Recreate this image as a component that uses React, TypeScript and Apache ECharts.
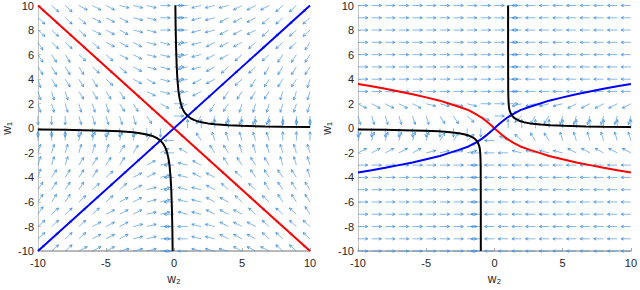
import React, { useEffect, useRef } from "react";
import * as echarts from "echarts";

// ---------- data ----------
const X_TICK_STEP = 5;
const Y_TICK_STEP = 2;
const AXIS_MIN = -10;
const AXIS_MAX = 10;

// quiver grid positions (columns = w2, rows = w1 from top)
const GRID_W2 = [-10, -9, -8, -7, -6, -5, -4, -3, -2, -1, 0, 1, 2, 3, 4, 5, 6, 7, 8, 9, 10];
const GRID_W1 = [10, 9, 8, 7, 6, 5, 4, 3, 2, 1, 0, -1, -2, -3, -4, -5, -6, -7, -8, -9, -10];

// arrow directions: a = 0deg (east), each letter +15deg counter-clockwise, "." = no arrow
const DIR_CODES = "abcdefghijklmnopqrstuvwx";
const DIR_STEP_DEG = 15;

const LEFT_FIELD = [
  "vvvwwwxxxaamnnnoooppp",
  "vvvvwwwxxaamnnooopppp",
  "vvvvwwwxxaamnnooopppp",
  "uvvvvwwwxxannoooppppq",
  "uuuvvvwwxxannoopppqqq",
  "uuuuvvvwxxannopppqqqq",
  "tuuuuvvwwxanooppqqqqr",
  "tttuuuuvwxanopqqqqrrr",
  "ttttttuuvwaopqqrrrrrr",
  "ssstttttuva.qrrrrrsss",
  "ssssssssss.gggggggggg",
  "gggfffffe.mjihhhhhggg",
  "ffffffeedcmkjiihhhhhh",
  "fffeeeedcbmlkjiiiihhh",
  "feeeeddccbmlkkjjiiiih",
  "eeeedddcbbmllkjjjiiii",
  "eeedddccbbmllkkjjjiii",
  "eddddcccbbmllkkkjjjji",
  "ddddcccbbammllkkkjjjj",
  "ddddcccbbammllkkkjjjj",
  "dddcccbbbammlllkkkjjj",
];

const RIGHT_FIELD = [
  "aaaaaaaaaaaammmmmmmmm",
  "aaaaaaaaaaaammmmmmmmm",
  "aaaaaaaaaaaammmmmmmmm",
  "aaaaaaaaaaaammmmmmmmm",
  "aaaaaaaaaaaammmmmmmmm",
  "aaaaaaaaaaaammmmmmmmm",
  "aaaaaaaaaaaammmmmmmmm",
  "aaaaaaaaaaaammmmmmmmm",
  "wwwwwxxxxaaannnnooooo",
  "ttttttuuvwacpqqrrrrrr",
  "ssssssssss.gggggggggg",
  "ffffffeedomkjiihhhhhh",
  "cccccbbbbmmmllllkkkkk",
  "aaaaaaaaammmmmmmmmmmm",
  "aaaaaaaaammmmmmmmmmmm",
  "aaaaaaaaammmmmmmmmmmm",
  "aaaaaaaaammmmmmmmmmmm",
  "aaaaaaaaammmmmmmmmmmm",
  "aaaaaaaaammmmmmmmmmmm",
  "aaaaaaaaammmmmmmmmmmm",
  "aaaaaaaaammmmmmmmmmmm",
];

// curves as [w2, w1]
const LEFT_RED = [[-10, 10], [10, -10]];
const LEFT_BLUE = [[-10, -10], [10, 10]];
const LEFT_BLACK_UPPER = [
  [0.1, 10], [0.12, 8.3], [0.15, 6.7], [0.2, 5], [0.25, 4], [0.33, 3], [0.4, 2.5], [0.5, 2],
  [0.6, 1.67], [0.67, 1.5], [0.8, 1.25], [1, 1], [1.25, 0.8], [1.5, 0.67], [1.67, 0.6], [2, 0.5],
  [2.5, 0.4], [3, 0.33], [4, 0.25], [5, 0.2], [6.7, 0.15], [8, 0.125], [10, 0.1],
];
const LEFT_BLACK_LOWER = [
  [-0.1, -10], [-0.12, -8.3], [-0.15, -6.7], [-0.2, -5], [-0.25, -4], [-0.33, -3], [-0.4, -2.5], [-0.5, -2],
  [-0.6, -1.67], [-0.67, -1.5], [-0.8, -1.25], [-1, -1], [-1.25, -0.8], [-1.5, -0.67], [-1.67, -0.6], [-2, -0.5],
  [-2.5, -0.4], [-3, -0.33], [-4, -0.25], [-5, -0.2], [-6.7, -0.15], [-8, -0.125], [-10, -0.1],
];

const RIGHT_RED = [
  [-10, 3.6], [-9, 3.42], [-8, 3.22], [-7, 3.0], [-6, 2.78], [-5, 2.52], [-4, 2.25], [-3.3, 2.0],
  [-2.6, 1.76], [-1.9, 1.48], [-1.4, 1.18], [-0.9, 0.84], [-0.5, 0.49], [-0.2, 0.2], [0, 0],
  [0.2, -0.2], [0.5, -0.49], [0.9, -0.84], [1.4, -1.18], [1.9, -1.48], [2.6, -1.76], [3.3, -2.0],
  [4, -2.25], [5, -2.52], [6, -2.78], [7, -3.0], [8, -3.22], [9, -3.42], [10, -3.6],
];
const RIGHT_BLUE = [
  [-10, -3.6], [-9, -3.42], [-8, -3.22], [-7, -3.0], [-6, -2.78], [-5, -2.52], [-4, -2.25], [-3.3, -2.0],
  [-2.6, -1.76], [-1.9, -1.48], [-1.4, -1.18], [-0.9, -0.84], [-0.5, -0.49], [-0.2, -0.2], [0, 0],
  [0.2, 0.2], [0.5, 0.49], [0.9, 0.84], [1.4, 1.18], [1.9, 1.48], [2.6, 1.76], [3.3, 2.0],
  [4, 2.25], [5, 2.52], [6, 2.78], [7, 3.0], [8, 3.22], [9, 3.42], [10, 3.6],
];
const RIGHT_BLACK_UPPER = [
  [1.0, 10], [1.0, 6], [1.005, 4], [1.01, 3], [1.02, 2.5], [1.04, 2], [1.07, 1.7], [1.1, 1.5],
  [1.2, 1.2], [1.31, 1], [1.5, 0.8], [1.85, 0.6], [2.15, 0.5], [2.6, 0.4], [3.4, 0.3],
  [4.1, 0.25], [5.1, 0.2], [6.7, 0.15], [8, 0.125], [10, 0.1],
];
const RIGHT_BLACK_LOWER = [
  [-1.0, -10], [-1.0, -6], [-1.005, -4], [-1.01, -3], [-1.02, -2.5], [-1.04, -2], [-1.07, -1.7], [-1.1, -1.5],
  [-1.2, -1.2], [-1.31, -1], [-1.5, -0.8], [-1.85, -0.6], [-2.15, -0.5], [-2.6, -0.4], [-3.4, -0.3],
  [-4.1, -0.25], [-5.1, -0.2], [-6.7, -0.15], [-8, -0.125], [-10, -0.1],
];

const X_NAME = "w₂";
const Y_NAME = "w₁";

// ---------- styles ----------
const ARROW_COLOR = "#3f8fdb";
const ARROW_LEN = 0.72; // in data units
const HEAD_LEN = 3;
const FONT = "'Liberation Sans', Arial, Helvetica, sans-serif";
const AXIS_COLOR = "#a3a3a3";

function fieldData(rows: string[]) {
  const out: number[][] = [];
  rows.forEach((row, r) => {
    for (let c = 0; c < row.length; c++) {
      const k = DIR_CODES.indexOf(row[c]);
      if (k < 0) continue;
      out.push([GRID_W2[c], GRID_W1[r], k * DIR_STEP_DEG]);
    }
  });
  return out;
}

function renderArrow(_params: any, api: any) {
  const x = api.value(0);
  const y = api.value(1);
  const a = (api.value(2) * Math.PI) / 180;
  const p0 = api.coord([x, y]);
  const p1 = api.coord([x + ARROW_LEN * Math.cos(a), y + ARROW_LEN * Math.sin(a)]);
  const dx = p1[0] - p0[0];
  const dy = p1[1] - p0[1];
  const len = Math.hypot(dx, dy) || 1;
  const bx = -dx / len;
  const by = -dy / len;
  const ang = 0.45;
  const c = Math.cos(ang);
  const s = Math.sin(ang);
  const w1 = [p1[0] + HEAD_LEN * (bx * c - by * s), p1[1] + HEAD_LEN * (bx * s + by * c)];
  const w2 = [p1[0] + HEAD_LEN * (bx * c + by * s), p1[1] + HEAD_LEN * (-bx * s + by * c)];
  return {
    type: "group",
    children: [
      {
        type: "line",
        shape: { x1: p0[0], y1: p0[1], x2: p1[0], y2: p1[1] },
        style: { stroke: ARROW_COLOR, lineWidth: 0.7, opacity: 0.9 },
      },
      {
        type: "polyline",
        shape: { points: [w1, p1, w2] },
        style: { stroke: ARROW_COLOR, lineWidth: 0.8, fill: null },
      },
    ],
  };
}

function xAxis(gridIndex: number) {
  return {
    type: "value",
    gridIndex,
    min: AXIS_MIN,
    max: AXIS_MAX,
    interval: X_TICK_STEP,
    name: X_NAME,
    nameLocation: "middle",
    nameGap: 17,
    nameTextStyle: { color: "#262626", fontSize: 12, fontFamily: FONT },
    axisLine: { show: true, onZero: false, lineStyle: { color: AXIS_COLOR, width: 1.5 } },
    axisTick: { show: true, inside: true, length: 3, lineStyle: { color: AXIS_COLOR } },
    axisLabel: { color: "#262626", fontSize: 11, fontFamily: FONT, margin: 6 },
    splitLine: { show: false },
  };
}

function yAxis(gridIndex: number) {
  return {
    type: "value",
    gridIndex,
    min: AXIS_MIN,
    max: AXIS_MAX,
    interval: Y_TICK_STEP,
    name: Y_NAME,
    nameLocation: "middle",
    nameGap: 25,
    nameRotate: 90,
    nameTextStyle: { color: "#262626", fontSize: 12, fontFamily: FONT },
    axisLine: { show: true, onZero: false, lineStyle: { color: "#c4c4c4", width: 1 } },
    axisTick: { show: true, inside: true, length: 3, lineStyle: { color: "#c4c4c4" } },
    axisLabel: { color: "#262626", fontSize: 11, fontFamily: FONT, margin: 4 },
    splitLine: { show: false },
  };
}

function lineSeries(idx: number, data: number[][], color: string, z: number) {
  return {
    type: "line",
    xAxisIndex: idx,
    yAxisIndex: idx,
    data,
    showSymbol: false,
    symbol: "none",
    smooth: false,
    lineStyle: { color, width: 2 },
    z,
    silent: true,
  };
}

export default function App() {
  const ref = useRef<HTMLDivElement>(null);
  useEffect(() => {
    if (!ref.current) return;
    const chart = echarts.init(ref.current, undefined, { renderer: "svg" });
    chart.setOption({
      animation: false,
      backgroundColor: "#ffffff",
      grid: [
        { left: 34, top: 3, width: 276, height: 257 },
        { left: 358, top: 3, width: 276, height: 257 },
      ],
      xAxis: [xAxis(0), xAxis(1)],
      yAxis: [yAxis(0), yAxis(1)],
      series: [
        {
          type: "custom",
          xAxisIndex: 0,
          yAxisIndex: 0,
          data: fieldData(LEFT_FIELD),
          encode: { x: 0, y: 1 },
          renderItem: renderArrow,
          silent: true,
          z: 1,
        },
        {
          type: "custom",
          xAxisIndex: 1,
          yAxisIndex: 1,
          data: fieldData(RIGHT_FIELD),
          encode: { x: 0, y: 1 },
          renderItem: renderArrow,
          silent: true,
          z: 1,
        },
        lineSeries(0, LEFT_RED, "#ff0000", 3),
        lineSeries(0, LEFT_BLUE, "#0000ff", 3),
        lineSeries(0, LEFT_BLACK_UPPER, "#000000", 4),
        lineSeries(0, LEFT_BLACK_LOWER, "#000000", 4),
        lineSeries(1, RIGHT_RED, "#ff0000", 3),
        lineSeries(1, RIGHT_BLUE, "#0000ff", 3),
        lineSeries(1, RIGHT_BLACK_UPPER, "#000000", 4),
        lineSeries(1, RIGHT_BLACK_LOWER, "#000000", 4),
      ],
    });
    return () => chart.dispose();
  }, []);
  return (
    <div
      ref={ref}
      style={{ position: "fixed", left: 0, top: 0, width: 640, height: 290, background: "#fff" }}
    />
  );
}
